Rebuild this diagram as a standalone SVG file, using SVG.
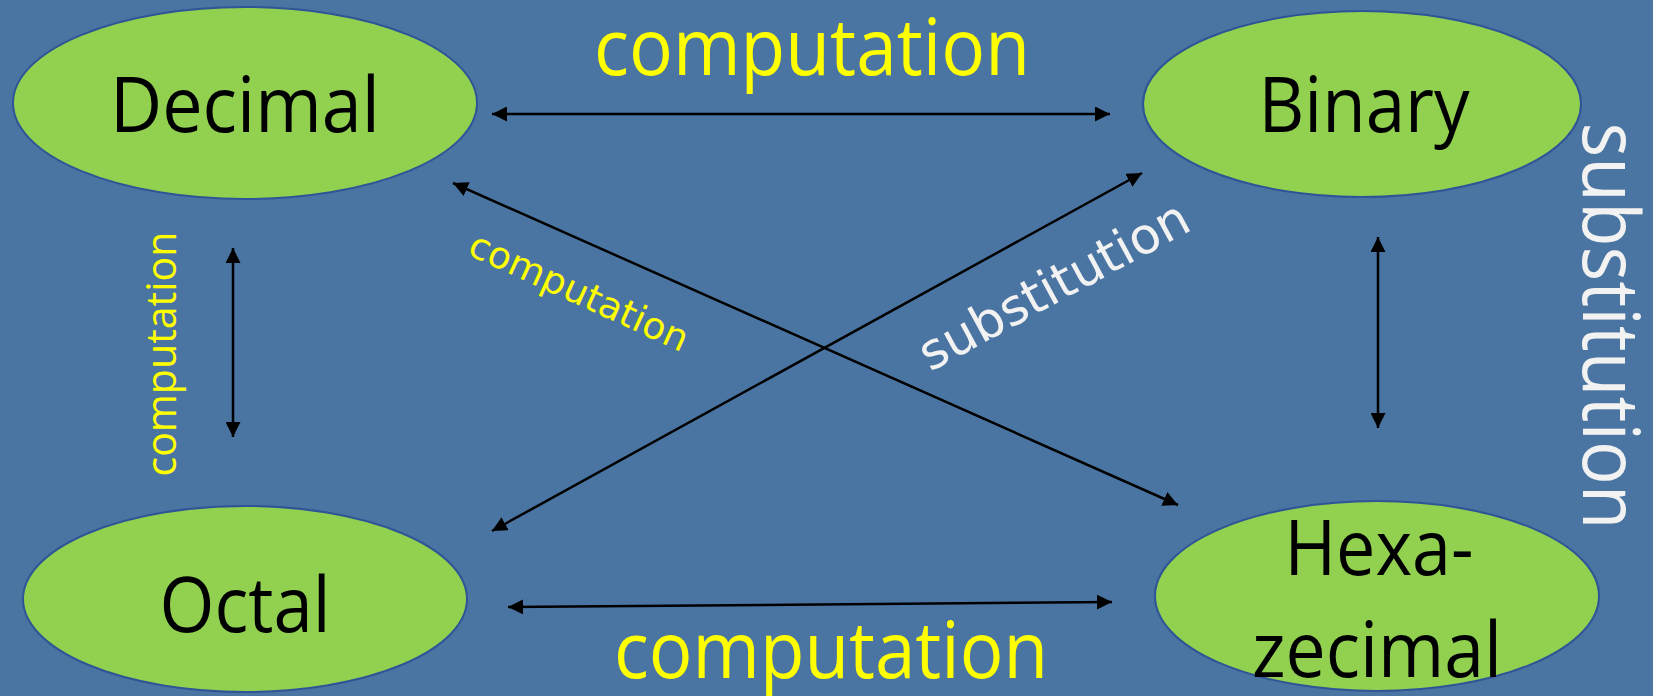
<svg xmlns="http://www.w3.org/2000/svg" width="1653" height="696" viewBox="0 0 1653 696">
  <defs>
    <marker id="head" markerWidth="15" markerHeight="15" refX="15" refY="7.5" orient="auto-start-reverse" markerUnits="userSpaceOnUse">
      <path d="M0,0 L15,7.5 L0,15 z" fill="#000"/>
    </marker>
    <style>
      .node ellipse { fill: #92D050; stroke: #2F5597; stroke-width: 2; }
      .node text { font-family: "Open Sans", "Noto Sans", sans-serif; font-size: 76px; fill: #000; text-anchor: middle; }
      .conn line { stroke: #000; stroke-width: 2.5; marker-start: url(#head); marker-end: url(#head); }
      .big { font-family: "Open Sans", "Noto Sans", sans-serif; font-size: 78px; text-anchor: middle; }
      .small { font-family: "DejaVu Sans", Verdana, sans-serif; }
      .yel { fill: #FFFF00; }
      .wht { fill: #F2F2F2; }
    </style>
  </defs>

  <rect x="0" y="0" width="1653" height="696" fill="#4A74A1"/>

  <g id="node-decimal" class="node">
    <ellipse cx="245" cy="103" rx="232" ry="96"/>
    <text x="245" y="132" textLength="270" lengthAdjust="spacingAndGlyphs">Decimal</text>
  </g>

  <g id="node-binary" class="node">
    <ellipse cx="1362" cy="104" rx="219" ry="93"/>
    <text x="1364" y="132" textLength="211" lengthAdjust="spacingAndGlyphs">Binary</text>
  </g>

  <g id="node-octal" class="node">
    <ellipse cx="245" cy="599" rx="222" ry="93"/>
    <text x="245" y="632" textLength="171" lengthAdjust="spacingAndGlyphs">Octal</text>
  </g>

  <g id="node-hexa" class="node">
    <ellipse cx="1377" cy="596" rx="222" ry="95"/>
    <text x="1379" y="575" textLength="189" lengthAdjust="spacingAndGlyphs">Hexa-</text>
    <text x="1377" y="677" textLength="250" lengthAdjust="spacingAndGlyphs">zecimal</text>
  </g>

  <g id="connectors" class="conn">
    <line x1="492" y1="114" x2="1110" y2="114"/>
    <line x1="508" y1="607" x2="1112" y2="602"/>
    <line x1="233" y1="248" x2="233" y2="437"/>
    <line x1="1378" y1="237" x2="1378" y2="428"/>
    <line x1="453" y1="183" x2="1178" y2="505"/>
    <line x1="492" y1="531" x2="1142" y2="173"/>
  </g>

  <g id="labels">
    <text class="big yel" x="812" y="75" textLength="436" lengthAdjust="spacingAndGlyphs">computation</text>
    <text class="big yel" x="831" y="678" textLength="434" lengthAdjust="spacingAndGlyphs">computation</text>
    <text class="big yel" style="font-size:42px" transform="translate(176,354) rotate(-90)" x="0" y="0" textLength="245" lengthAdjust="spacingAndGlyphs">computation</text>
    <text class="big wht" transform="translate(1583,326) rotate(90)" x="0" y="0" textLength="407" lengthAdjust="spacingAndGlyphs">substitution</text>
    <text class="small yel" font-size="37" transform="translate(466,254) rotate(24.5)" x="0" y="0" textLength="237" lengthAdjust="spacingAndGlyphs">computation</text>
    <text class="small wht" font-size="50" transform="translate(930,372) rotate(-28.5)" x="0" y="0" textLength="300" lengthAdjust="spacingAndGlyphs">substitution</text>
  </g>
</svg>
